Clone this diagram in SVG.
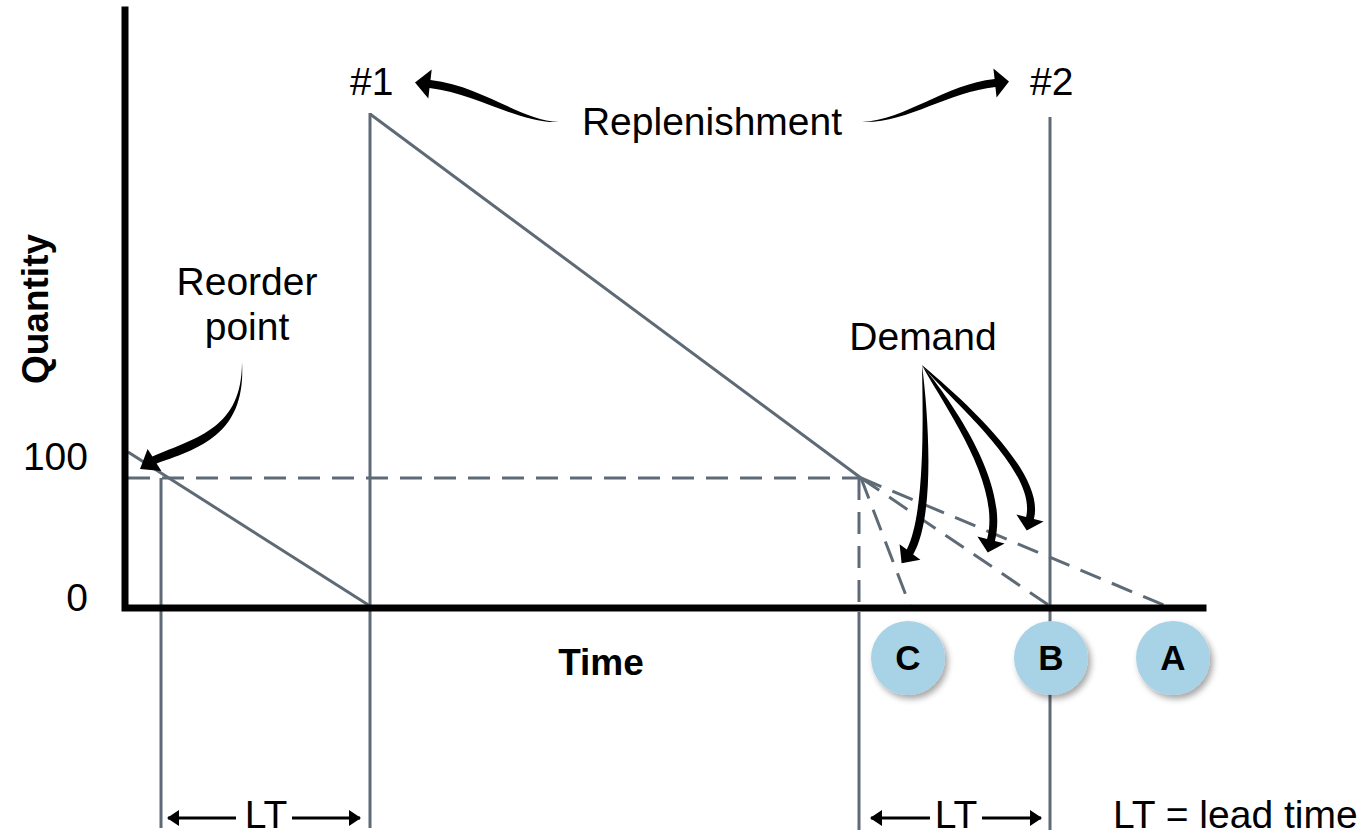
<svg xmlns="http://www.w3.org/2000/svg" width="1363" height="838" viewBox="0 0 1363 838">
  <defs>
    <style>
      .lbl { font-family: "Liberation Sans", Arial, sans-serif; font-size: 39px; fill: #000; }
      .bold { font-family: "Liberation Sans", Arial, sans-serif; font-weight: bold; fill: #000; }
      .axis { stroke: #000; stroke-width: 7; fill: none; stroke-linecap: square; }
      .inv { stroke: #5e6b76; stroke-width: 3; fill: none; }
      .dash { stroke: #5e6b76; stroke-width: 3; fill: none; stroke-dasharray: 22 12; }
      .dim { stroke: #000; stroke-width: 3; fill: none; }
      .curl { fill: #000; stroke: none; }
      .badge { fill: #a8d3e6; filter: url(#shadow); }
    </style>
    <filter id="shadow" x="-30%" y="-30%" width="170%" height="170%">
      <feDropShadow dx="3" dy="4" stdDeviation="3" flood-color="#000" flood-opacity="0.35"/>
    </filter>
    <marker id="tip" viewBox="0 0 12 16" refX="11" refY="8" markerWidth="12" markerHeight="16" markerUnits="userSpaceOnUse" orient="auto-start-reverse">
      <path d="M0,0 L12,8 L0,16 Z" fill="#000"/>
    </marker>
  </defs>

  <!-- inventory level lines -->
  <g id="inventory">
    <line class="dash" x1="128" y1="478" x2="858" y2="478"/>
    <polyline class="inv" points="128,452 370,606"/>
    <line class="inv" x1="161" y1="478" x2="161" y2="828"/>
    <line class="inv" x1="370" y1="828" x2="370" y2="113"/>
    <line class="inv" x1="370" y1="114" x2="861" y2="478"/>
    <line class="dash" x1="859" y1="478" x2="859" y2="606"/>
    <line class="inv" x1="859" y1="612" x2="859" y2="830"/>
    <line class="inv" x1="1050" y1="117" x2="1050" y2="830"/>
  </g>

  <!-- demand scenarios -->
  <g id="connectors">
    <line class="dash" x1="861" y1="478" x2="910" y2="606"/>
    <line class="dash" x1="861" y1="478" x2="1050" y2="606"/>
    <line class="dash" x1="861" y1="478" x2="1166" y2="606"/>

    <!-- callout arrows -->
    <path class="curl" d="M559,122 C520,120 482,86 430.5,80 L431.7,69.6 L415,82.5 L428.3,98.4 L429.5,88 C478,94 520,124 559,122 Z"/>
    <path class="curl" d="M862,122 C905,124 948,92 995.4,87 L996.6,97.4 L1009,81.5 L993.4,68.6 L994.6,79 C946,84 905,120 862,122 Z"/>
    <path class="curl" d="M242,362 C246,430 206,447 156.6,463.4 L161.4,471 L140,469 L147.6,449 L152.4,456.6 C198,437 242,428 242,362 Z"/>
    <path class="curl" d="M922,365 C929,420 935,517 913.2,554.4 L920.4,559.8 L901.6,563.2 L899.6,544.2 L906.8,549.6 C925,513 923,420 922,365 Z"/>
    <path class="curl" d="M922,365 C949,398 1010,482 994.9,541 L1004.6,543.5 L987.75,552.6 L977.4,536.5 L987.1,539 C1002,482 941,402 922,365 Z"/>
    <path class="curl" d="M922,365 C949,388 1047,470 1033.9,519 L1043.6,521.5 L1026.75,530.6 L1016.4,514.5 L1026.1,517 C1038,469 941,392 922,365 Z"/>

    <!-- lead time dimensions -->
    <line class="dim" x1="236" y1="818" x2="168" y2="818" marker-end="url(#tip)"/>
    <line class="dim" x1="292" y1="818" x2="360" y2="818" marker-end="url(#tip)"/>
    <line class="dim" x1="930" y1="818" x2="871" y2="818" marker-end="url(#tip)"/>
    <line class="dim" x1="982" y1="818" x2="1041" y2="818" marker-end="url(#tip)"/>
  </g>

  <!-- axes -->
  <g id="axes">
    <polyline class="axis" points="125,10 125,608 1203,608"/>
    <text class="lbl" x="88" y="470" text-anchor="end">100</text>
    <text class="lbl" x="88" y="611" text-anchor="end">0</text>
    <text class="bold" font-size="37" x="601" y="675" text-anchor="middle">Time</text>
    <text class="bold" font-size="37" transform="translate(48,309) rotate(-90)" text-anchor="middle">Quantity</text>
  </g>

  <!-- text labels -->
  <g id="label-1"><text class="lbl" x="350" y="95">#1</text></g>
  <g id="label-2"><text class="lbl" x="1030" y="95">#2</text></g>
  <g id="label-replenishment"><text class="lbl" x="712" y="135" text-anchor="middle">Replenishment</text></g>
  <g id="label-reorder">
    <text class="lbl" x="247" y="295" text-anchor="middle">Reorder</text>
    <text class="lbl" x="247" y="340" text-anchor="middle">point</text>
  </g>
  <g id="label-demand"><text class="lbl" x="923" y="350" text-anchor="middle">Demand</text></g>
  <g id="label-lt1"><text class="lbl" x="266" y="828" text-anchor="middle">LT</text></g>
  <g id="label-lt2"><text class="lbl" x="956" y="828" text-anchor="middle">LT</text></g>
  <g id="label-legend"><text class="lbl" x="1113" y="828">LT = lead time</text></g>

  <!-- outcome badges -->
  <g id="badge-c">
    <circle class="badge" cx="908" cy="658" r="37"/>
    <text class="bold" font-size="35" x="908" y="670" text-anchor="middle">C</text>
  </g>
  <g id="badge-b">
    <circle class="badge" cx="1051" cy="658" r="37"/>
    <text class="bold" font-size="35" x="1051" y="670" text-anchor="middle">B</text>
  </g>
  <g id="badge-a">
    <circle class="badge" cx="1173" cy="658" r="37"/>
    <text class="bold" font-size="35" x="1173" y="670" text-anchor="middle">A</text>
  </g>
</svg>
